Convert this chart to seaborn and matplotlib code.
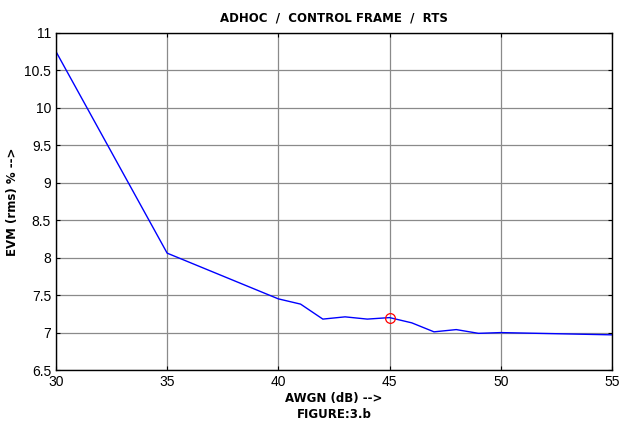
import numpy as np
import pandas as pd
import seaborn as sns
import matplotlib
matplotlib.use('Agg')
import matplotlib.pyplot as plt

sns.set_style('white')
plt.rcParams['font.family'] = ['Liberation Sans', 'DejaVu Sans']
plt.rcParams['text.color'] = 'black'
plt.rcParams['axes.labelcolor'] = 'black'
plt.rcParams['xtick.color'] = 'black'
plt.rcParams['ytick.color'] = 'black'

# data
awgn = [30, 35, 40, 41, 42, 43, 44, 45, 46, 47, 48, 49, 50, 55]
evm = [10.75, 8.06, 7.45, 7.38, 7.18, 7.21, 7.18, 7.20, 7.13, 7.01, 7.04, 6.99, 7.00, 6.97]
marker_x = [45]
marker_y = [7.20]

df = pd.DataFrame({'awgn': awgn, 'evm': evm})

fig = plt.figure(figsize=(6.39, 4.21), dpi=100)
ax = fig.add_axes([0.0876, 0.121, 0.870, 0.801])

sns.lineplot(x='awgn', y='evm', data=df, ax=ax, color='#0000ff', linewidth=1.0)
ax.plot(marker_x, marker_y, 'o', mfc='none', mec='red', ms=7, mew=0.9)

ax.set_xlim(30, 55)
ax.set_ylim(6.5, 11)
ax.set_xticks(np.arange(30, 56, 5))
ax.set_yticks(np.arange(6.5, 11.01, 0.5))
ax.set_yticklabels(['6.5', '7', '7.5', '8', '8.5', '9', '9.5', '10', '10.5', '11'])
ax.grid(True, color='#8a8a8a', linewidth=0.9)
ax.tick_params(axis='both', labelsize=10, direction='in', length=3, left=True, bottom=True, top=True, right=True)
for s in ax.spines.values():
    s.set_color('black')
    s.set_linewidth(1.0)

lab = dict(fontsize=8.5, fontweight='bold', family='DejaVu Sans', color='black')
ax.set_title('ADHOC  /  CONTROL FRAME  /  RTS', pad=8, **lab)
ax.set_xlabel('AWGN (dB) -->\nFIGURE:3.b', labelpad=2, linespacing=1.35, **lab)
ax.set_ylabel('EVM (rms) % -->', labelpad=4, **lab)

fig.savefig('out.png', dpi=100)
